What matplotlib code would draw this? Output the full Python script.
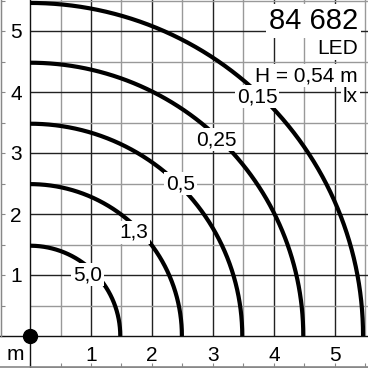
import numpy as np
import matplotlib
matplotlib.use("Agg")
import matplotlib.pyplot as plt
from matplotlib.lines import Line2D

plt.rcParams['font.family'] = ['Liberation Sans', 'DejaVu Sans']

# Isolux curves (radius in m) and their lux labels
radii = [1.48, 2.49, 3.48, 4.48, 5.46]
lux_labels = ["5,0", "1,3", "0,5", "0,25", "0,15"]
label_angles_deg = [47, 45, 45.3, 46.5, 46.5]
label_radius_factor = [0.93, 0.965, 1.01, 0.99, 0.99]

xticks = [1, 2, 3, 4, 5]
yticks = [1, 2, 3, 4, 5]
xticklabels = ["1", "2", "3", "4", "5"]
yticklabels = ["1", "2", "3", "4", "5"]

title_number = "84 682"
title_lines = ["LED", "H = 0,54 m", "lx"]

W = 368
fig = plt.figure(figsize=(3.68, 3.68), dpi=100)
ax = fig.add_axes([30 / W, 32 / W, 338 / W, 336 / W])
ax.set_xlim(0, 338 / 61)
ax.set_ylim(0, 336 / 61)

# grid
ax.set_xticks(xticks)
ax.set_yticks(yticks)
ax.set_xticklabels(xticklabels)
ax.set_yticklabels(yticklabels)
ax.set_xticks(np.arange(0.5, 5.6, 1.0), minor=True)
ax.set_yticks(np.arange(0.5, 5.6, 1.0), minor=True)
ax.grid(which='major', color='#222222', lw=1.0, zorder=1)
ax.grid(which='minor', color='#999999', lw=1.0, zorder=1)
ax.set_axisbelow(True)
ax.tick_params(which='both', length=0)
ax.tick_params(axis='x', pad=7, labelsize=15)
ax.tick_params(axis='y', pad=6, labelsize=15)
for s in ['top', 'right']:
    ax.spines[s].set_visible(False)
for s in ['left', 'bottom']:
    ax.spines[s].set_color('#111111')
    ax.spines[s].set_linewidth(1.0)

# axis lines extended into the margins
ax.axvline(0, ymin=-31 / 336, ymax=0, color='#111111', lw=1.0, clip_on=False)
ax.axhline(0, xmin=-30 / 338, xmax=0, color='#111111', lw=1.0, clip_on=False)

# curves
theta = np.linspace(0, np.pi / 2, 300)
for r in radii:
    ax.plot(r * np.cos(theta), r * np.sin(theta), color='black', lw=3.0,
            solid_capstyle='butt', zorder=3)

# curve labels
for r, lab, a, f in zip(radii, lux_labels, label_angles_deg, label_radius_factor):
    t = np.deg2rad(a)
    ax.text(r * f * np.cos(t), r * f * np.sin(t), lab, fontsize=15,
            ha='center', va='center', zorder=5,
            bbox=dict(boxstyle='square,pad=0.1', fc='white', ec='none'))

# origin dot
ax.plot([0], [0], 'o', color='black', markersize=10, clip_on=False, zorder=6)

# header texts
ax.text(358 / W, 1 - 29 / W, title_number, transform=fig.transFigure,
        fontsize=21, ha='right', va='baseline', zorder=5,
        bbox=dict(boxstyle='square,pad=0.1', fc='white', ec='none'))
baselines = [54, 81, 102]
for txt, b in zip(title_lines, baselines):
    ax.text(358 / W, 1 - b / W, txt, transform=fig.transFigure,
            fontsize=15, ha='right', va='baseline', zorder=5,
            bbox=dict(boxstyle='square,pad=0.1', fc='white', ec='none'))

# unit label
fig.text(15 / W, 1 - 360 / W, "m", fontsize=15, ha='center', va='baseline')

# outer frame with small ticks
secx = ax.secondary_xaxis(-31 / 336)
secx.set_xticks(np.arange(0, 5.6, 0.5))
secx.tick_params(direction='in', length=3, color='#888888', labelbottom=False)
secx.spines['bottom'].set_color('#888888')
secy = ax.secondary_yaxis(-29.5 / 338)
secy.set_yticks(np.arange(0, 5.6, 0.5))
secy.tick_params(direction='in', length=3, color='#888888', labelleft=False)
secy.spines['left'].set_color('#888888')
fig.add_artist(Line2D([0, 1], [1.0 / W, 1.0 / W], transform=fig.transFigure,
                      color='#888888', lw=1.2))
fig.add_artist(Line2D([0.5 / W, 0.5 / W], [32 / W, 1], transform=fig.transFigure,
                      color='#888888', lw=1))

fig.savefig("out.png", dpi=100)
